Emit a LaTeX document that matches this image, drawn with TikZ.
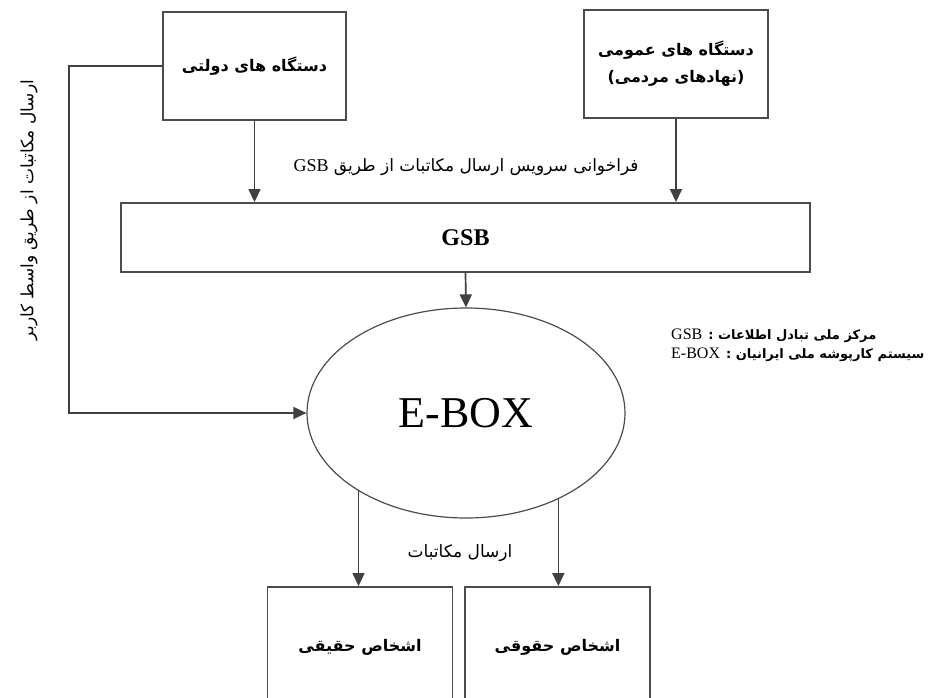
\documentclass[tikz,border=0pt]{standalone}
\usepackage{fontspec}
\setmainfont{Liberation Serif}
\newfontfamily\fa[Script=Arabic]{DejaVu Sans}
\usetikzlibrary{arrows.meta,shapes.geometric}
\TeXXeTstate=1

\begin{document}
\begin{tikzpicture}[x=1pt, y=-1pt,
    box/.style={draw=black!70, line width=1.9pt, inner sep=0pt},
    arr/.style={draw=black!75, line width=1.7pt, -{Triangle[length=13pt,width=12pt]}},
    bfa/.style={font=\fa\bfseries\fontsize{16}{27}\selectfont},
    lfa/.style={font=\fa\fontsize{17}{20}\selectfont}]
    \clip (0,0) rectangle (931,698);
    \node[box, bfa, minimum width=183, minimum height=108] (dev) at (254.5,66) {\beginR دستگاه های دولتی\endR};
    \node[box, bfa, align=center, minimum width=184, minimum height=108] (pub) at (676,64) {\beginR دستگاه های عمومی\endR\\\beginR (نهادهای مردمی)\endR};
    \node[box, minimum width=689, minimum height=69, font=\bfseries\fontsize{24}{28}\selectfont] (gsb) at (465.5,237.5) {GSB};
    \node[box, line width=1.2pt, ellipse, minimum width=318, minimum height=210, font=\fontsize{44}{50}\selectfont] (ebox) at (466,413) {E-BOX};
    \node[box, bfa, minimum width=185, minimum height=120] (prs) at (360,647) {\beginR اشخاص حقیقی\endR};
    \node[box, bfa, minimum width=185, minimum height=120] (lgl) at (557.5,647) {\beginR اشخاص حقوقی\endR};
    \draw[arr] (dev.south) -- (gsb.north -| dev.south);
    \draw[arr] (pub.south) -- (gsb.north -| pub.south);
    \draw[arr] (gsb.south) -- (ebox.north);
    \draw[arr] (dev.west) -- ++(-93,0) |- (ebox.west);
    \draw[arr] (ebox.-144) -- (prs.north -| ebox.-144);
    \draw[arr] (ebox.-43) -- (lgl.north -| ebox.-43);
    \node[lfa] (call) at (466,167) {\beginR فراخوانی سرویس ارسال مکاتبات از طریق \beginL{\rmfamily\fontsize{18}{20}\selectfont GSB}\endL\endR};
    \node[lfa] (send) at (460,553) {\beginR ارسال مکاتبات\endR};
    \node[lfa, rotate=90] (user) at (29,210) {\beginR ارسال مکاتبات از طریق واسط کاربر\endR};
    \node[font=\fa\bfseries\fontsize{13}{19}\selectfont, align=left, anchor=west, inner sep=0pt] (key) at (671,345) {\beginR مرکز ملی تبادل اطلاعات : \beginL{\rmfamily\mdseries\fontsize{16}{19}\selectfont GSB}\endL\endR\\\beginR سیستم کارپوشه ملی ایرانیان : \beginL{\rmfamily\mdseries\fontsize{16}{19}\selectfont E-BOX}\endL\endR};
\end{tikzpicture}
\end{document}
